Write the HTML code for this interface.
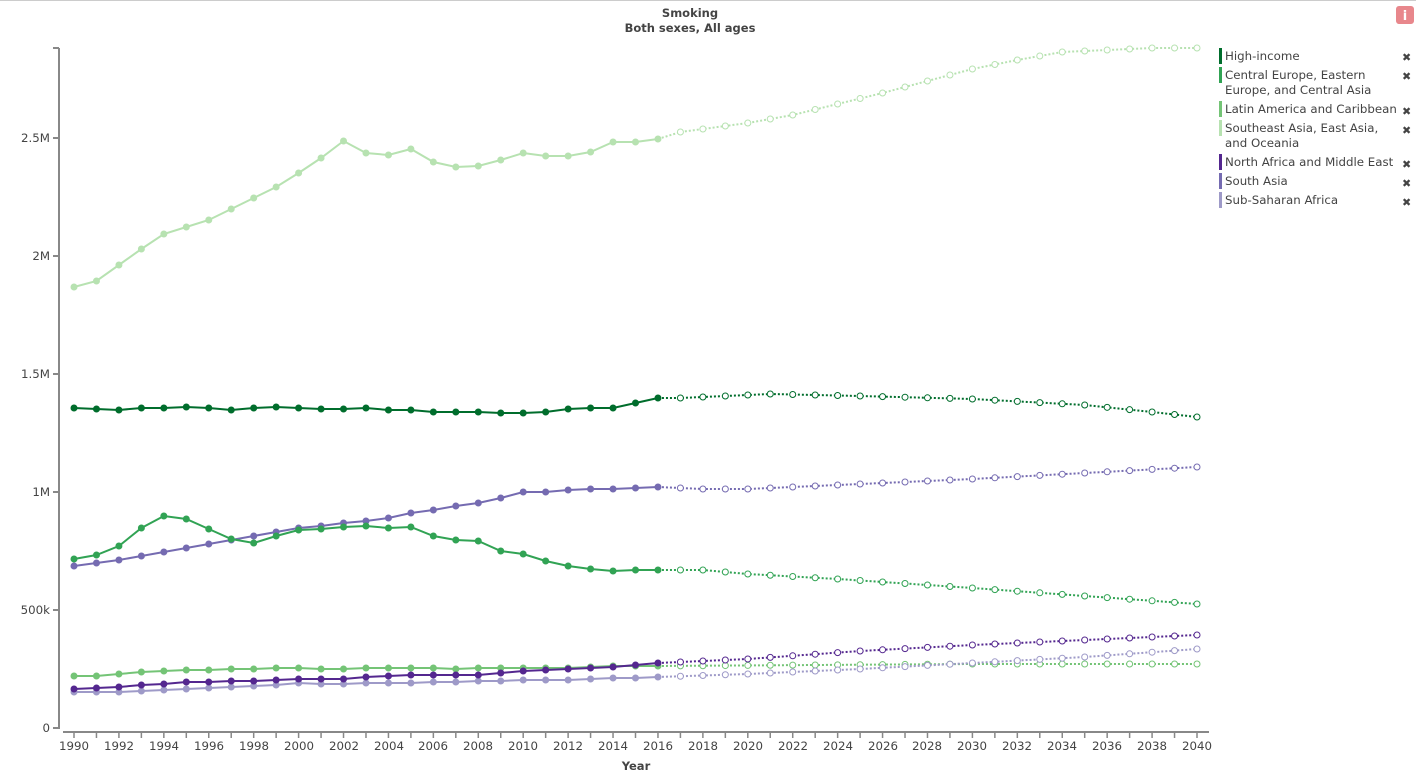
<!DOCTYPE html>
<html><head><meta charset="utf-8"><style>
body{margin:0;background:#fff;width:1416px;height:778px;overflow:hidden;font-family:"DejaVu Sans",sans-serif}
svg{position:absolute;left:0;top:0}
text{font-family:"DejaVu Sans",sans-serif;fill:#444}
</style></head><body>
<svg id="s" width="1416" height="778">
<line x1="0" y1="0.5" x2="1416" y2="0.5" stroke="#ccc"/>
<text x="690" y="17" text-anchor="middle" font-size="11.5" font-weight="bold" fill="#333">Smoking</text>
<text x="690" y="32" text-anchor="middle" font-size="11.5" font-weight="bold" fill="#333">Both sexes, All ages</text>
<rect x="1396" y="6" width="18" height="18" rx="3" fill="#e8878c"/>
<text x="1405" y="20" text-anchor="middle" font-size="13" font-weight="bold" style="fill:#fff">i</text>
<g stroke="#888" stroke-width="2" fill="none">
<line x1="59" y1="48" x2="59" y2="729"/>
<line x1="63" y1="732" x2="1209" y2="732"/>
</g>
<g font-size="11.8" text-anchor="end">
<text x="50" y="732">0</text><text x="50" y="614">500k</text><text x="50" y="496">1M</text>
<text x="50" y="378">1.5M</text><text x="50" y="260">2M</text><text x="50" y="142">2.5M</text>
</g>
<g stroke="#888" stroke-width="2">
<line x1="53" y1="728" x2="59" y2="728"/><line x1="53" y1="610" x2="59" y2="610"/><line x1="53" y1="492" x2="59" y2="492"/>
<line x1="53" y1="374" x2="59" y2="374"/><line x1="53" y1="256" x2="59" y2="256"/><line x1="53" y1="138" x2="59" y2="138"/><line x1="53" y1="48" x2="59" y2="48"/>
</g>
<g id="xt" stroke="#888" stroke-width="1.5"></g>
<g font-size="11.8" text-anchor="middle">
<text x="74" y="750">1990</text><text x="119" y="750">1992</text><text x="164" y="750">1994</text><text x="209" y="750">1996</text><text x="254" y="750">1998</text><text x="299" y="750">2000</text><text x="344" y="750">2002</text><text x="389" y="750">2004</text><text x="433" y="750">2006</text><text x="478" y="750">2008</text><text x="523" y="750">2010</text><text x="568" y="750">2012</text><text x="613" y="750">2014</text><text x="658" y="750">2016</text><text x="703" y="750">2018</text><text x="748" y="750">2020</text><text x="793" y="750">2022</text><text x="838" y="750">2024</text><text x="883" y="750">2026</text><text x="927" y="750">2028</text><text x="972" y="750">2030</text><text x="1017" y="750">2032</text><text x="1062" y="750">2034</text><text x="1107" y="750">2036</text><text x="1152" y="750">2038</text><text x="1197" y="750">2040</text>
</g>
<text x="636" y="770" text-anchor="middle" font-size="11.5" font-weight="bold" fill="#333">Year</text>
<g id="plot"></g>
<g font-size="11.8">
<rect x="1219" y="48" width="3" height="16" fill="#006d2c"/><text x="1225" y="60">High-income</text>
<rect x="1219" y="67" width="3" height="16" fill="#31a354"/><text x="1225" y="79">Central Europe, Eastern</text><text x="1225" y="94">Europe, and Central Asia</text>
<rect x="1219" y="101" width="3" height="16" fill="#74c476"/><text x="1225" y="113">Latin America and Caribbean</text>
<rect x="1219" y="120" width="3" height="16" fill="#b7e2b1"/><text x="1225" y="132">Southeast Asia, East Asia,</text><text x="1225" y="147">and Oceania</text>
<rect x="1219" y="154" width="3" height="16" fill="#54278f"/><text x="1225" y="166">North Africa and Middle East</text>
<rect x="1219" y="173" width="3" height="16" fill="#756bb1"/><text x="1225" y="185">South Asia</text>
<rect x="1219" y="192" width="3" height="16" fill="#9e9ac8"/><text x="1225" y="204">Sub-Saharan Africa</text>
<g fill="#888" font-size="11"><text x="1402" y="61">✖</text><text x="1402" y="80">✖</text><text x="1402" y="115">✖</text><text x="1402" y="134">✖</text><text x="1402" y="168">✖</text><text x="1402" y="187">✖</text><text x="1402" y="206">✖</text></g>
</g>
</svg>
<script>
var X=function(y){return 74+(y-1990)*22.46;};
var xt=document.getElementById('xt'),h='';
for(var y=1990;y<=2040;y++){var x=X(y);h+='<line x1="'+x+'" y1="732" x2="'+x+'" y2="738"/>';}
xt.innerHTML=h;
function interp(k){var o=[];for(var i=0;i<k.length-1;i++){var a=k[i],b=k[i+1];for(var y=a[0];y<b[0];y++)o.push(a[1]+(b[1]-a[1])*(y-a[0])/(b[0]-a[0]));}o.push(k[k.length-1][1]);return o;}
var S=[
["#b7e2b1",[287,281,265,249,234,227,220,209,198,187,173,158,141,153,155,149,162,167,166,160,153,156,156,152,142,142,139],[[2016,139],[2017,132],[2018,129],[2020,123],[2022,115],[2024,104],[2026,93],[2028,81],[2030,69],[2032,60],[2034,52],[2036,50],[2038,48],[2040,48]]],
["#74c476",[676,676,674,672,671,670,670,669,669,668,668,669,669,668,668,668,668,669,668,668,668,668,668,667,666,666,666],[[2016,666],[2030,664],[2040,664]]],
["#9e9ac8",[692,692,692,691,690,689,688,687,686,685,683,684,684,683,683,683,682,682,681,681,680,680,680,679,678,678,677],[[2016,677],[2020,674],[2025,669],[2030,663],[2035,657],[2040,649]]],
["#54278f",[689,688,687,685,684,682,682,681,681,680,679,679,679,677,676,675,675,675,675,673,671,670,669,668,667,665,663],[[2016,663],[2020,659],[2025,651],[2030,645],[2035,640],[2040,635]]],
["#756bb1",[566,563,560,556,552,548,544,540,536,532,528,526,523,521,518,513,510,506,503,498,492,492,490,489,489,488,487],[[2016,487],[2018,489],[2020,489],[2025,484],[2030,479],[2035,473],[2040,467]]],
["#31a354",[559,555,546,528,516,519,529,539,543,536,530,529,527,526,528,527,536,540,541,551,554,561,566,569,571,570,570],[[2016,570],[2018,570],[2020,574],[2024,579],[2030,588],[2035,596],[2040,604]]],
["#006d2c",[408,409,410,408,408,407,408,410,408,407,408,409,409,408,410,410,412,412,412,413,413,412,409,408,408,403,398],[[2016,398],[2017,398],[2019,396],[2021,394],[2025,396],[2030,399],[2035,405],[2038,412],[2040,417]]]
];
var g='';
S.forEach(function(s){var c=s[0],h=s[1],p=interp(s[2]);
 var pts=p.map(function(v,i){return X(2016+i)+','+v;}).join(' ');
 g+='<polyline points="'+pts+'" fill="none" stroke="'+c+'" stroke-width="2" stroke-dasharray="2,2"/>';
 p.forEach(function(v,i){if(i>0)g+='<circle cx="'+X(2016+i)+'" cy="'+v+'" r="3" fill="#fff" stroke="'+c+'" stroke-width="1"/>';});
 pts=h.map(function(v,i){return X(1990+i)+','+v;}).join(' ');
 g+='<polyline points="'+pts+'" fill="none" stroke="'+c+'" stroke-width="2"/>';
 h.forEach(function(v,i){g+='<circle cx="'+X(1990+i)+'" cy="'+v+'" r="3.5" fill="'+c+'"/>';});
});
document.getElementById('plot').innerHTML=g;
</script>
</body></html>
